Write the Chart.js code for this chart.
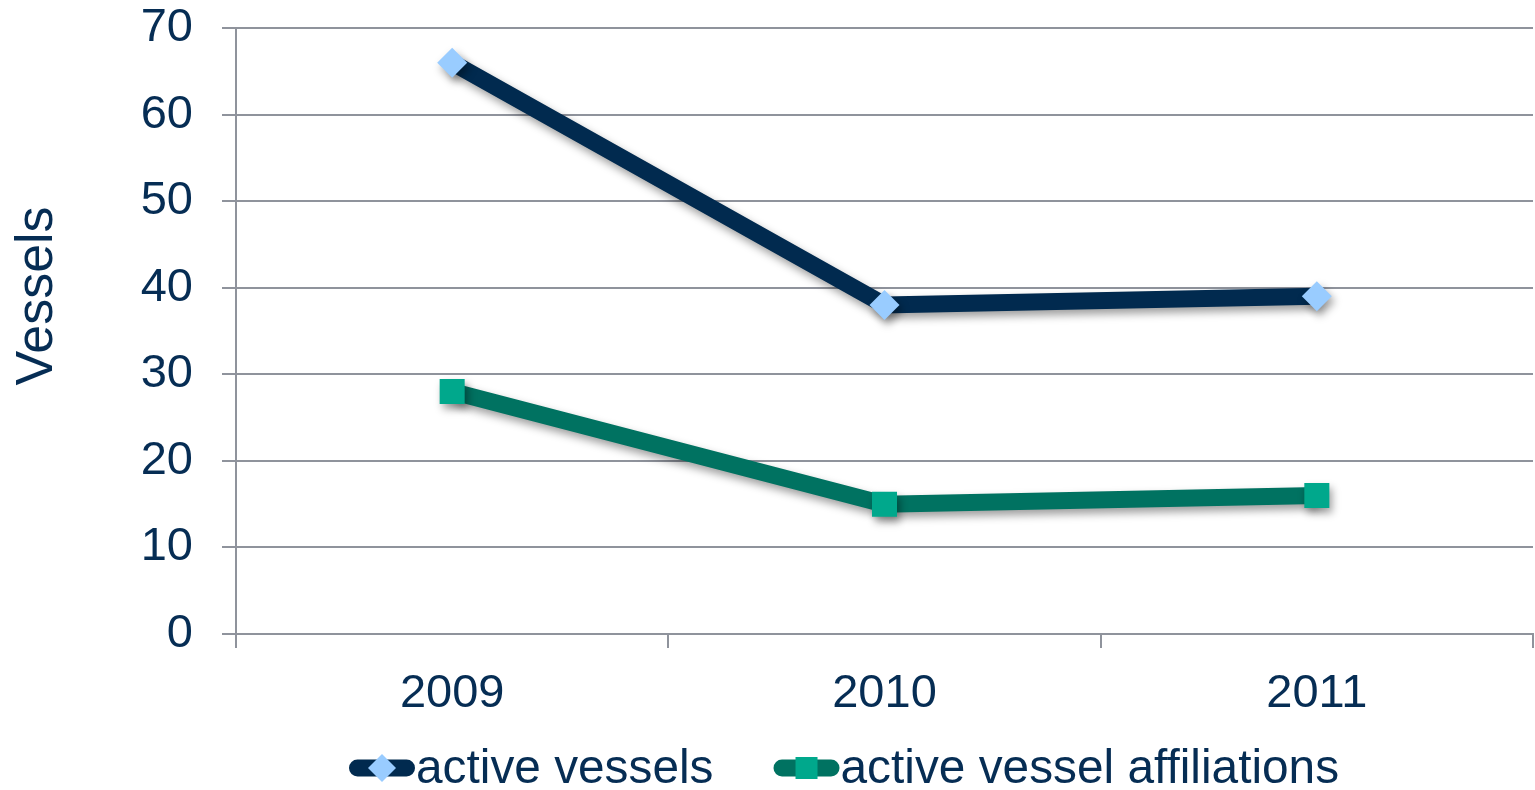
<!DOCTYPE html>
<html>
<head>
<meta charset="utf-8">
<script src="https://cdn.jsdelivr.net/npm/chart.js@4/dist/chart.umd.min.js"></script>
<style>
  html, body { margin: 0; padding: 0; background: #ffffff; overflow: hidden; }
  #wrap { width: 1535px; height: 790px; }
</style>
</head>
<body>
<div id="wrap"><canvas id="c" width="1535" height="790"></canvas></div>
<script>
// Data
const years = ['2009', '2010', '2011'];
const activeVessels = [66, 38, 39];
const activeAffiliations = [28, 15, 16];
const seriesNames = ['active vessels', 'active vessel affiliations'];
const yTitle = 'Vessels';
const yMin = 0, yMax = 70, yStep = 10;

// Styling
const FONT = '"Liberation Sans", Arial, Helvetica, sans-serif';
const TEXT = '#062d54';
const GRID = '#8f939c';
const NAVY = '#012a4f';
const LIGHT_BLUE = '#99ccff';
const GREEN = '#007261';
const TEAL = '#00a88c';

// Soft drop shadow under the series lines and markers
const shadowPlugin = {
  id: 'seriesShadow',
  beforeDatasetsDraw(chart) {
    const ctx = chart.ctx;
    ctx.save();
    ctx.shadowColor = 'rgba(0,0,0,0.38)';
    ctx.shadowBlur = 8;
    ctx.shadowOffsetX = 3;
    ctx.shadowOffsetY = 5;
  },
  afterDatasetsDraw(chart) {
    chart.ctx.restore();
  }
};

// Rotated y-axis title
const axisTitlePlugin = {
  id: 'axisTitle',
  afterDraw(chart) {
    const ctx = chart.ctx;
    ctx.save();
    ctx.translate(52, 296);
    ctx.rotate(-Math.PI / 2);
    ctx.font = '52px ' + FONT;
    ctx.fillStyle = TEXT;
    ctx.textAlign = 'center';
    ctx.textBaseline = 'alphabetic';
    ctx.fillText(yTitle, 0, 0);
    ctx.restore();
  }
};

// Legend: thick line swatch with the series marker, text right next to it
const legendPlugin = {
  id: 'lineLegend',
  afterDraw(chart) {
    const ctx = chart.ctx;
    const baseY = 783, midY = 768;
    const swatchW = 66, lineW = 17, gap = 60;
    let x = 349;
    ctx.save();
    ctx.font = '47.8px ' + FONT;
    chart.data.datasets.forEach((ds) => {
      // swatch line
      ctx.beginPath();
      ctx.lineCap = 'round';
      ctx.lineWidth = lineW;
      ctx.strokeStyle = ds.borderColor;
      ctx.moveTo(x + lineW / 2, midY);
      ctx.lineTo(x + swatchW - lineW / 2, midY);
      ctx.stroke();
      // marker
      const cx = x + swatchW / 2;
      ctx.fillStyle = ds.pointBackgroundColor;
      ctx.beginPath();
      if (ds.pointStyle === 'rectRot') {
        const r = 14;
        ctx.moveTo(cx - r, midY);
        ctx.lineTo(cx, midY - r);
        ctx.lineTo(cx + r, midY);
        ctx.lineTo(cx, midY + r);
        ctx.closePath();
      } else {
        const h = 11;
        ctx.rect(cx - h, midY - h, 2 * h, 2 * h);
      }
      ctx.fill();
      // label
      ctx.fillStyle = TEXT;
      ctx.textAlign = 'left';
      ctx.textBaseline = 'alphabetic';
      const tx = x + swatchW + 1;
      ctx.fillText(ds.label, tx, baseY);
      x = tx + ctx.measureText(ds.label).width + gap;
    });
    ctx.restore();
  }
};

new Chart(document.getElementById('c'), {
  type: 'line',
  data: {
    labels: years,
    datasets: [
      {
        label: seriesNames[0],
        data: activeVessels,
        borderColor: NAVY,
        borderWidth: 17,
        borderCapStyle: 'butt',
        borderJoinStyle: 'miter',
        tension: 0,
        fill: false,
        pointStyle: 'rectRot',
        pointRadius: 15,
        pointBackgroundColor: LIGHT_BLUE,
        pointBorderWidth: 0
      },
      {
        label: seriesNames[1],
        data: activeAffiliations,
        borderColor: GREEN,
        borderWidth: 17,
        borderCapStyle: 'butt',
        borderJoinStyle: 'miter',
        tension: 0,
        fill: false,
        pointStyle: 'rect',
        pointRadius: 17.7,
        pointBackgroundColor: TEAL,
        pointBorderWidth: 0
      }
    ]
  },
  options: {
    responsive: false,
    animation: false,
    events: [],
    layout: { autoPadding: false, padding: { left: 0, right: 2, top: 28, bottom: 0 } },
    plugins: {
      legend: { display: false },
      tooltip: { enabled: false }
    },
    scales: {
      x: {
        type: 'category',
        offset: true,
        grid: {
          offset: true,
          drawOnChartArea: false,
          drawTicks: true,
          tickLength: 14,
          color: GRID,
          lineWidth: 2
        },
        border: { display: true, color: GRID, width: 2 },
        ticks: {
          color: TEXT,
          font: { family: FONT, size: 47 },
          padding: 18,
          maxRotation: 0
        },
        afterFit(scale) {
          scale.height = 156;
          scale.paddingLeft = 0;
          scale.paddingRight = 0;
        }
      },
      y: {
        min: yMin,
        max: yMax,
        grid: {
          color: GRID,
          lineWidth: 2,
          drawTicks: true,
          tickLength: 14
        },
        border: { display: true, color: GRID, width: 2 },
        ticks: {
          stepSize: yStep,
          color: TEXT,
          font: { family: FONT, size: 47 },
          padding: 29
        },
        afterFit(scale) {
          scale.width = 236;
          scale.paddingTop = 0;
          scale.paddingBottom = 0;
        }
      }
    }
  },
  plugins: [shadowPlugin, axisTitlePlugin, legendPlugin]
});
</script>
</body>
</html>
